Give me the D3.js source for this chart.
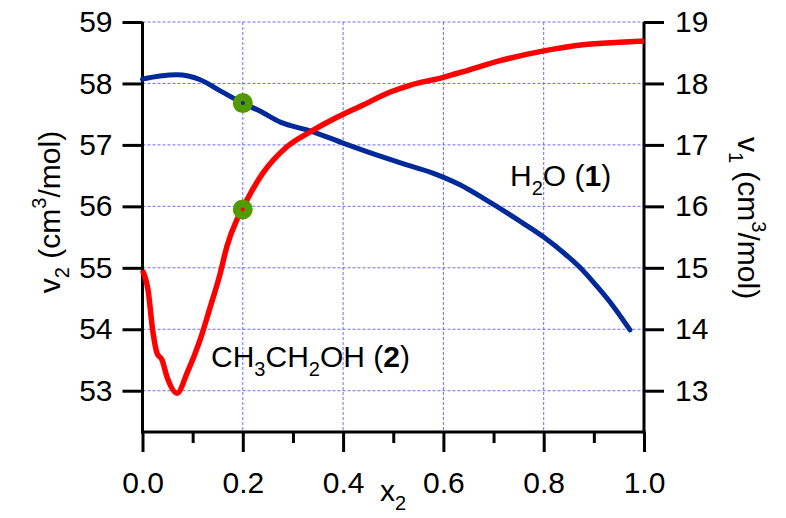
<!DOCTYPE html>
<html>
<head>
<meta charset="utf-8">
<script src="https://cdn.jsdelivr.net/npm/d3@7"></script>
<style>
  html, body { margin: 0; padding: 0; background: #fff; }
  svg { display: block; }
  text { font-family: "Liberation Sans", Arial, Helvetica, sans-serif; fill: #000; }
</style>
</head>
<body>
<svg id="chart" width="786" height="518"></svg>
<script>
// ---- data ----
const ethanolX = [0.000, 0.011, 0.021, 0.029, 0.039, 0.049, 0.069, 0.089, 0.115, 0.135, 0.155, 0.168, 0.188, 0.200, 0.208, 0.240, 0.288, 0.334, 0.388, 0.440, 0.494, 0.533, 0.600, 0.647, 0.713, 0.800, 0.878, 0.952, 1.000];
const ethanolV = [54.96, 54.64, 53.94, 53.61, 53.50, 53.22, 52.96, 53.29, 53.83, 54.36, 54.91, 55.34, 55.78, 55.97, 56.10, 56.54, 56.97, 57.21, 57.45, 57.65, 57.86, 57.97, 58.10, 58.21, 58.37, 58.53, 58.63, 58.67, 58.69];
const waterX = [0.000, 0.035, 0.069, 0.115, 0.155, 0.200, 0.234, 0.275, 0.334, 0.400, 0.480, 0.513, 0.579, 0.633, 0.680, 0.760, 0.800, 0.846, 0.873, 0.906, 0.940, 0.972];
const waterV = [18.07, 18.12, 18.14, 18.06, 17.88, 17.68, 17.55, 17.37, 17.23, 17.03, 16.80, 16.71, 16.54, 16.35, 16.13, 15.72, 15.50, 15.20, 15.00, 14.70, 14.36, 13.99];
const markerX = [0.2, 0.2];
const markerV = [55.95, 17.68];   // [left axis (ethanol), right axis (water)]
const xMajorTicks = [0.0, 0.2, 0.4, 0.6, 0.8, 1.0];
const xMinorTicks = [0.1, 0.3, 0.5, 0.7, 0.9];
const leftTicks = [53, 54, 55, 56, 57, 58, 59];
const rightTicks = [13, 14, 15, 16, 17, 18, 19];

// ---- layout ----
const svg = d3.select("#chart");
const L = 142.5, R = 644, T = 22, B = 432;
const x = d3.scaleLinear().domain([0, 1]).range([L, R]);
const yL = d3.scaleLinear().domain([52.328, 59]).range([B, T]);
const yR = d3.scaleLinear().domain([12.328, 19]).range([B, T]);

const FONT = 30;
const gridColor = "#6a6aff";

// grid
const grid = svg.append("g");
grid.selectAll("line.gx").data([0.2, 0.4, 0.6, 0.8]).join("line")
  .attr("x1", d => x(d)).attr("x2", d => x(d)).attr("y1", T).attr("y2", B)
  .attr("stroke", gridColor).attr("stroke-width", 1).attr("stroke-dasharray", "3,2");
grid.selectAll("line.gy").data(leftTicks).join("line")
  .attr("x1", L).attr("x2", R).attr("y1", d => yL(d)).attr("y2", d => yL(d))
  .attr("stroke", gridColor).attr("stroke-width", 1).attr("stroke-dasharray", "3,2");

// axes
function styleAxis(g) {
  g.selectAll("path.domain").attr("stroke", "#000").attr("stroke-width", 3);
  g.selectAll(".tick line").attr("stroke", "#000").attr("stroke-width", 3);
  g.selectAll(".tick text").attr("font-size", FONT).style("font-family", '"Liberation Sans", Arial, Helvetica, sans-serif').attr("fill", "#000");
}
const xAxis = svg.append("g").attr("transform", `translate(0,${B})`)
  .call(d3.axisBottom(x).tickValues(xMajorTicks).tickSize(20).tickSizeOuter(0).tickPadding(20).tickFormat(d3.format(".1f")));
styleAxis(xAxis);
xAxis.selectAll(".tick text").attr("dy", "0.71em");
const xMinor = svg.append("g").attr("transform", `translate(0,${B})`)
  .call(d3.axisBottom(x).tickValues(xMinorTicks).tickSize(11).tickSizeOuter(0).tickFormat(""));
styleAxis(xMinor);
xMinor.select("path.domain").remove();

const yAxisL = svg.append("g").attr("transform", `translate(${L},0)`)
  .call(d3.axisLeft(yL).tickValues(leftTicks).tickSize(20).tickSizeOuter(0).tickPadding(10).tickFormat(d3.format("d")));
styleAxis(yAxisL);
const yAxisR = svg.append("g").attr("transform", `translate(${R},0)`)
  .call(d3.axisRight(yR).tickValues(rightTicks).tickSize(20).tickSizeOuter(0).tickPadding(11).tickFormat(d3.format("d")));
styleAxis(yAxisR);
// extend axis domains to the bottom corner
yAxisL.select("path.domain").attr("d", `M0,${T}V${B + 1.5}`);
yAxisR.select("path.domain").attr("d", `M0,${T}V${B + 1.5}`);
xAxis.select("path.domain").attr("d", `M${L - 1.5},0H${R + 1.5}`);

// curves
const lineE = d3.line().x((d, i) => x(ethanolX[i])).y(d => yL(d)).curve(d3.curveMonotoneX);
const lineW = d3.line().x((d, i) => x(waterX[i])).y(d => yR(d)).curve(d3.curveMonotoneX);
svg.append("path").attr("d", lineW(waterV)).attr("fill", "none").attr("stroke", "#00299a").attr("stroke-width", 5).attr("stroke-linejoin", "round").attr("stroke-linecap", "round");
svg.append("path").attr("d", lineE(ethanolV)).attr("fill", "none").attr("stroke", "#ff0000").attr("stroke-width", 5.5).attr("stroke-linejoin", "round").attr("stroke-linecap", "butt");

// markers (green rings)
svg.append("circle").attr("cx", x(markerX[0])).attr("cy", yL(markerV[0])).attr("r", 6)
  .attr("fill", "none").attr("stroke", "#529a00").attr("stroke-width", 8);
svg.append("circle").attr("cx", x(markerX[1])).attr("cy", yR(markerV[1])).attr("r", 6)
  .attr("fill", "none").attr("stroke", "#529a00").attr("stroke-width", 8);

// annotations
function chem(t, parts) {
  parts.forEach(p => {
    const ts = t.append("tspan").text(p.t);
    if (p.sub) ts.attr("font-size", 20).attr("baseline-shift", "-9");
    if (p.sup) ts.attr("font-size", 20).attr("baseline-shift", "14");
    if (p.bold) ts.attr("font-weight", "bold");
  });
}
const h2o = svg.append("text").attr("x", 510).attr("y", 186).attr("font-size", FONT);
chem(h2o, [{t: "H"}, {t: "2", sub: true}, {t: "O ("}, {t: "1", bold: true}, {t: ")"}]);
const etoh = svg.append("text").attr("x", 211).attr("y", 367).attr("font-size", FONT);
chem(etoh, [{t: "CH"}, {t: "3", sub: true}, {t: "CH"}, {t: "2", sub: true}, {t: "OH ("}, {t: "2", bold: true}, {t: ")"}]);

// axis titles
const xt = svg.append("text").attr("x", 393).attr("y", 501).attr("text-anchor", "middle").attr("font-size", FONT);
chem(xt, [{t: "x"}, {t: "2", sub: true}]);
const ylt = svg.append("text").attr("transform", "translate(60,212) rotate(-90)").attr("text-anchor", "middle").attr("font-size", FONT);
chem(ylt, [{t: "v"}, {t: "2", sub: true}, {t: " (cm"}, {t: "3", sup: true}, {t: "/mol)"}]);
const yrt = svg.append("text").attr("transform", "translate(738,218) rotate(90)").attr("text-anchor", "middle").attr("font-size", FONT);
chem(yrt, [{t: "v"}, {t: "1", sub: true}, {t: " (cm"}, {t: "3", sup: true}, {t: "/mol)"}]);
</script>
</body>
</html>
